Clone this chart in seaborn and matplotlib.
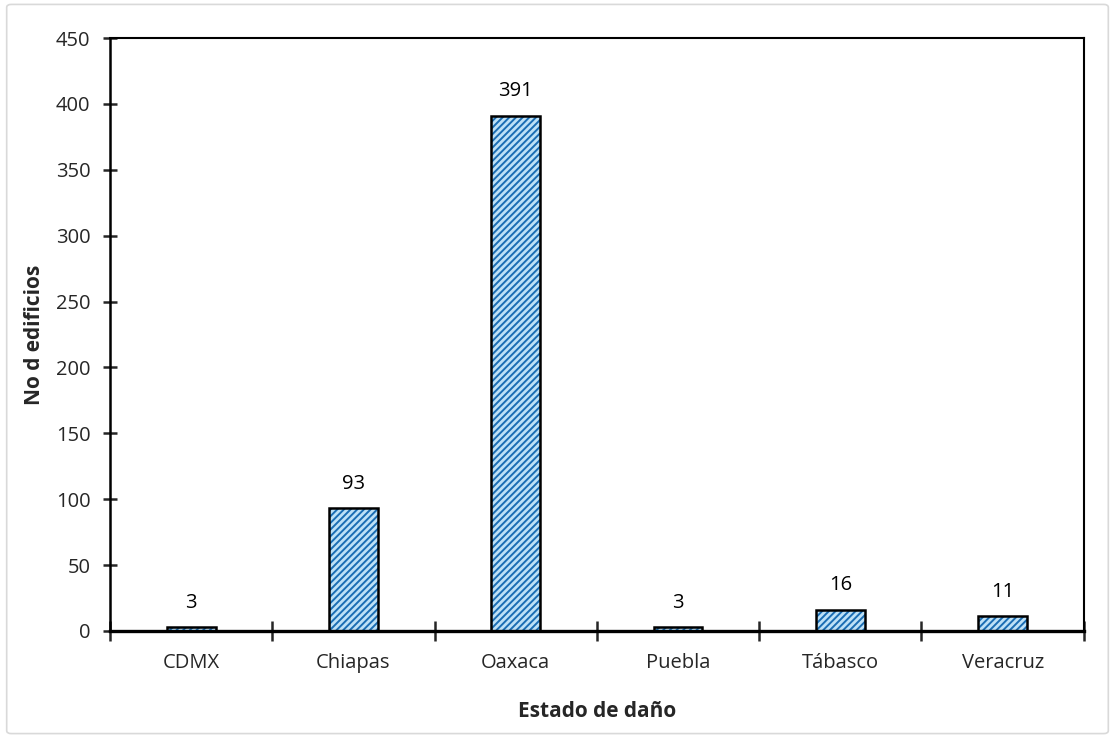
import matplotlib
matplotlib.use("Agg")
import matplotlib.pyplot as plt
from matplotlib.patches import FancyBboxPatch, Rectangle
import seaborn as sns
import pandas as pd

estados = ["CDMX", "Chiapas", "Oaxaca", "Puebla", "Tábasco", "Veracruz"]
edificios = [3, 93, 391, 3, 16, 11]
y_ticks = [0, 50, 100, 150, 200, 250, 300, 350, 400, 450]

sns.set_theme(style="white")
plt.rcParams["font.family"] = ["Open Sans", "DejaVu Sans"]
plt.rcParams["hatch.linewidth"] = 1.4

df = pd.DataFrame({"estado": estados, "n": edificios})

fig = plt.figure(figsize=(11.15, 7.38), dpi=100)
ax = fig.add_axes([0.0987, 0.145, 0.8733, 0.8035])

sns.barplot(data=df, x="estado", y="n", ax=ax, width=0.3,
            color="#bde1f7", saturation=1)

# blue hatch inside each bar, black outline drawn on top
for bar in list(ax.patches):
    bar.set_edgecolor("#1a6db3")
    bar.set_hatch("/////")
    bar.set_linewidth(0)
    ax.add_patch(Rectangle(bar.get_xy(), bar.get_width(), bar.get_height(),
                           fill=False, edgecolor="black", linewidth=1.8,
                           zorder=bar.get_zorder() + 0.1))

for i, v in enumerate(edificios):
    ax.text(i, v + 11, f"{v}", ha="center", va="bottom",
            fontsize=14.5, color="black")

ax.set_ylim(0, 450)
ax.set_xlim(-0.5, len(estados) - 0.5)
ax.set_yticks(y_ticks)
ax.tick_params(axis="y", direction="inout", length=10, width=1.8,
               labelsize=14.5, pad=9, left=True)
ax.set_xticks(range(len(estados)))
ax.set_xticklabels(estados)
ax.tick_params(axis="x", which="major", length=0, labelsize=14.5, pad=16)
ax.set_xticks([i - 0.5 for i in range(len(estados) + 1)], minor=True)
ax.tick_params(axis="x", which="minor", direction="inout", length=14,
               width=1.8, bottom=True)

for side in ["left", "right", "top", "bottom"]:
    ax.spines[side].set_visible(True)
    ax.spines[side].set_color("black")
ax.spines["left"].set_linewidth(1.8)
ax.spines["bottom"].set_linewidth(2.4)
ax.spines["right"].set_linewidth(1.5)
ax.spines["top"].set_linewidth(1.5)

ax.set_ylabel("No d edificios", fontsize=15, fontweight="bold", labelpad=8)
ax.set_xlabel("Estado de daño", fontsize=15, fontweight="bold", labelpad=20)

border = FancyBboxPatch((0.006, 0.006), 0.988, 0.988,
                        boxstyle="round,pad=0,rounding_size=0.004",
                        transform=fig.transFigure, fill=False,
                        edgecolor="#d9d9d9", linewidth=1.2)
fig.patches.append(border)

fig.savefig("out.png", dpi=100)
